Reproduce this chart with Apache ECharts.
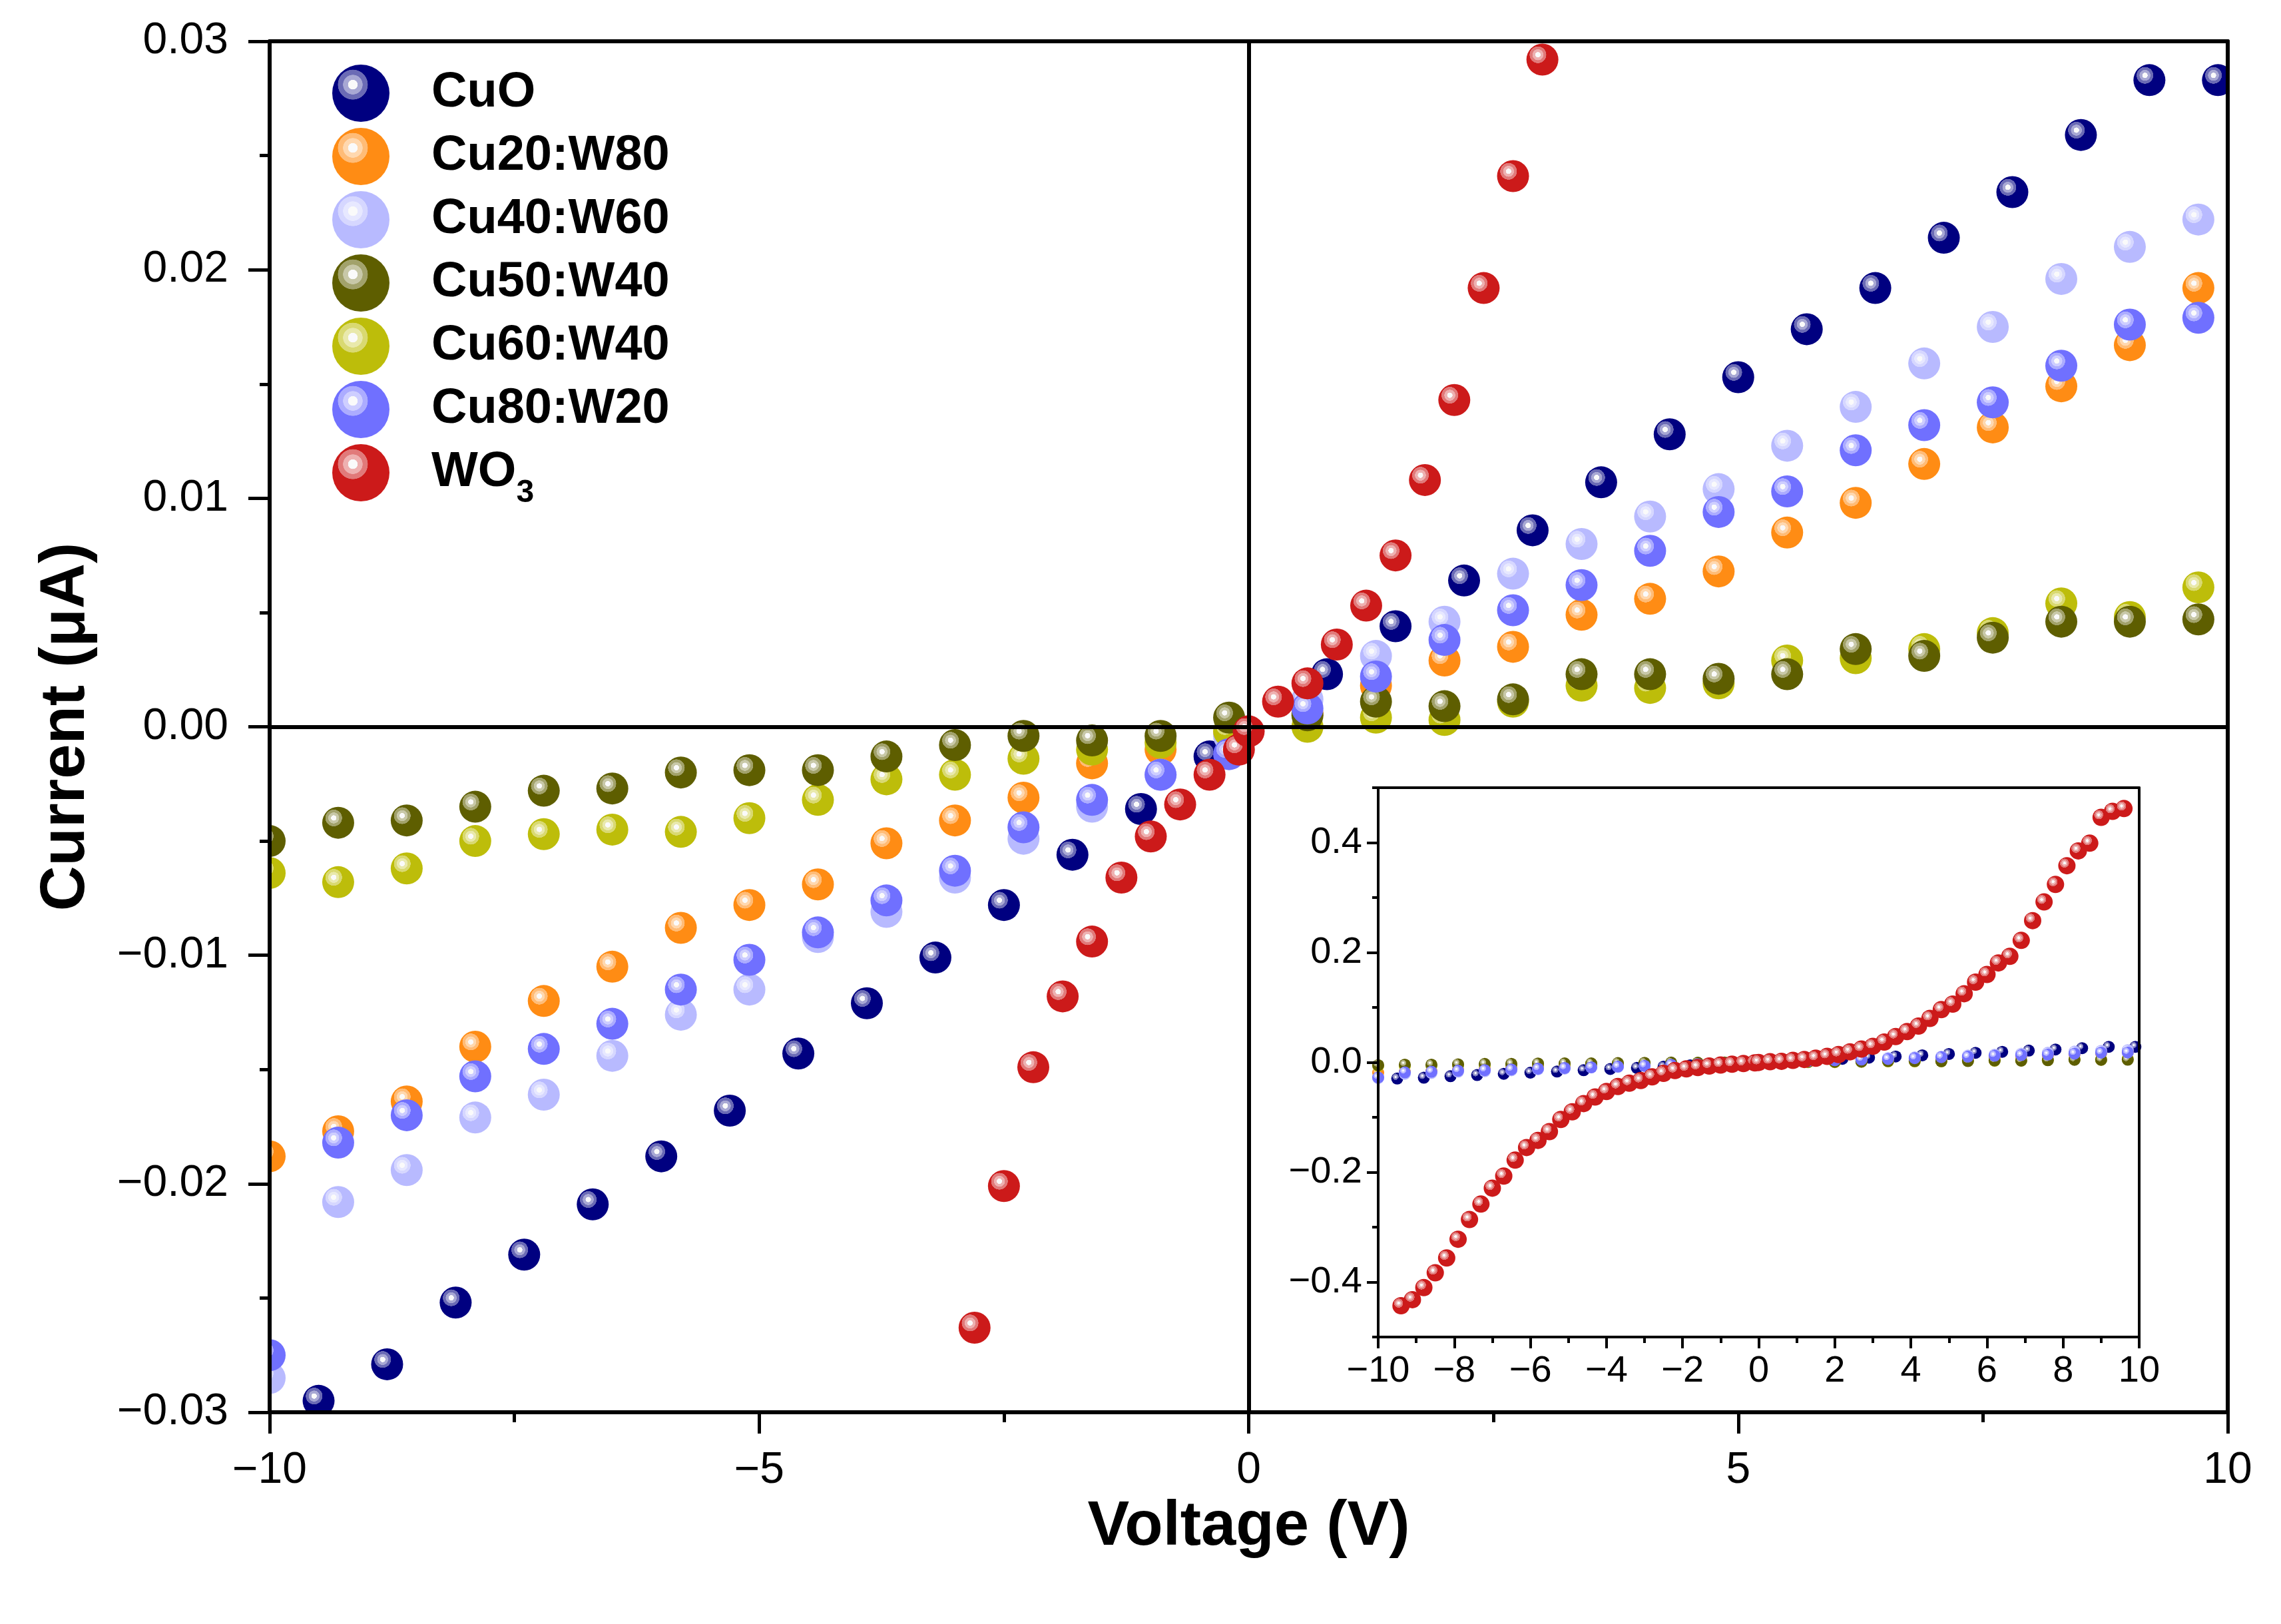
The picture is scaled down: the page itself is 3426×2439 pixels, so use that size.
<!DOCTYPE html>
<html>
<head>
<meta charset="utf-8">
<title>I-V curves</title>
<script src="https://cdn.jsdelivr.net/npm/echarts@6/dist/echarts.min.js"></script>
<style>
  html, body { margin: 0; padding: 0; background: #fff; }
  #chart { width: 3426px; height: 2439px; }
</style>
</head>
<body>
<div id="chart"></div>
<script>
'use strict';

// voltage sweeps (V)
const vCuO = [-9.5, -8.8, -8.1, -7.4, -6.7, -6.0, -5.3, -4.6, -3.9, -3.2, -2.5, -1.8, -1.1, -0.4,
    0.8, 1.5, 2.2, 2.9, 3.6, 4.3, 5.0, 5.7, 6.4, 7.1, 7.8, 8.5, 9.2, 9.9];
const vMix = [-10.0, -9.3, -8.6, -7.9, -7.2, -6.5, -5.8, -5.1, -4.4, -3.7, -3.0, -2.3, -1.6, -0.9, -0.2,
    0.6, 1.3, 2.0, 2.7, 3.4, 4.1, 4.8, 5.5, 6.2, 6.9, 7.6, 8.3, 9.0, 9.7];
const vWO3 = [-9.4, -9.1, -8.8, -8.5, -8.2, -7.9, -7.6, -7.3, -7.0, -6.7, -6.4, -6.1, -5.8, -5.5, -5.2,
    -4.9, -4.6, -4.3, -4.0, -3.7, -3.4, -3.1, -2.8, -2.5, -2.2, -1.9, -1.6, -1.3, -1.0, -0.7, -0.4, -0.1,
    0.0, 0.3, 0.6, 0.9, 1.2, 1.5, 1.8, 2.1, 2.4, 2.7, 3.0, 3.3, 3.6, 3.9, 4.2, 4.5, 4.8, 5.1, 5.4, 5.7,
    6.0, 6.3, 6.6, 6.9, 7.2, 7.5, 7.8, 8.1, 8.4, 8.7, 9.0, 9.3, 9.6];

// currents (uA)
const iCuO = [-0.0295, -0.0279, -0.0252, -0.0231, -0.0209, -0.0188, -0.0168, -0.0143, -0.0121, -0.0101,
    -0.0078, -0.0056, -0.0036, -0.0013, 0.0023, 0.0044, 0.0064, 0.0086, 0.0107, 0.0128, 0.0153, 0.0174,
    0.0192, 0.0214, 0.0234, 0.0259, 0.0283, 0.0283];
const iCu20 = [-0.0188, -0.0177, -0.0164, -0.0140, -0.0120, -0.0105, -0.0088, -0.0078, -0.0069, -0.0051,
    -0.0041, -0.0031, -0.0016, -0.0010, -0.0003, 0.0006, 0.0018, 0.0029, 0.0035, 0.0049, 0.0056, 0.0068,
    0.0085, 0.0098, 0.0115, 0.0131, 0.0149, 0.0167, 0.0192];
const iCu40 = [-0.0285, -0.0208, -0.0194, -0.0171, -0.0161, -0.0144, -0.0126, -0.0115, -0.0092, -0.0081,
    -0.0066, -0.0049, -0.0035, -0.0021, -0.0004, 0.0012, 0.0031, 0.0046, 0.0067, 0.0080, 0.0092, 0.0104,
    0.0123, 0.0140, 0.0159, 0.0175, 0.0196, 0.0210, 0.0222];
const iCu50 = [-0.0050, -0.0042, -0.0041, -0.0035, -0.0028, -0.0027, -0.0020, -0.0019, -0.0019, -0.0013,
    -0.0008, -0.0004, -0.0006, -0.0004, 0.0004, 0.0005, 0.0011, 0.0009, 0.0012, 0.0023, 0.0023, 0.0021,
    0.0023, 0.0034, 0.0031, 0.0039, 0.0046, 0.0046, 0.0047];
const iCu60 = [-0.0064, -0.0068, -0.0062, -0.0050, -0.0047, -0.0045, -0.0046, -0.0040, -0.0032, -0.0023,
    -0.0021, -0.0014, -0.0010, -0.0007, -0.0002, 0.0000, 0.0004, 0.0003, 0.0011, 0.0018, 0.0017, 0.0019,
    0.0029, 0.0030, 0.0034, 0.0041, 0.0054, 0.0048, 0.0061];
const iCu80 = [-0.0275, -0.0182, -0.0170, -0.0153, -0.0141, -0.0130, -0.0115, -0.0102, -0.0090, -0.0076,
    -0.0063, -0.0044, -0.0032, -0.0021, -0.0012, 0.0008, 0.0022, 0.0038, 0.0051, 0.0062, 0.0077, 0.0094,
    0.0103, 0.0121, 0.0132, 0.0142, 0.0158, 0.0176, 0.0179];
const iWO3 = [-0.443, -0.432, -0.410, -0.383, -0.356, -0.322, -0.286, -0.258, -0.229, -0.207, -0.178,
    -0.155, -0.142, -0.126, -0.104, -0.090, -0.075, -0.063, -0.053, -0.044, -0.038, -0.033, -0.0263,
    -0.0201, -0.0149, -0.0118, -0.0094, -0.0066, -0.0048, -0.0034, -0.0021, -0.0010,
    -0.0002, 0.0011, 0.0019, 0.0036, 0.0053, 0.0075, 0.0108, 0.0143, 0.0192, 0.0241, 0.0292, 0.037,
    0.047, 0.056, 0.066, 0.080, 0.096, 0.106, 0.125, 0.146, 0.160, 0.181, 0.193, 0.222, 0.258, 0.292,
    0.324, 0.358, 0.385, 0.399, 0.446, 0.457, 0.462];

// legend order and drawing order
const legendNames = ['CuO', 'Cu20:W80', 'Cu40:W60', 'Cu50:W40', 'Cu60:W40', 'Cu80:W20', 'WO3'];
const samples = [
    { name: 'CuO', v: vCuO, i: iCuO, color: '#000080' },
    { name: 'Cu20:W80', v: vMix, i: iCu20, color: '#ff8c14' },
    { name: 'Cu40:W60', v: vMix, i: iCu40, color: '#b8baff' },
    { name: 'Cu60:W40', v: vMix, i: iCu60, color: '#bdbd0a' },
    { name: 'Cu50:W40', v: vMix, i: iCu50, color: '#5e5e00' },
    { name: 'Cu80:W20', v: vMix, i: iCu80, color: '#7070ff' },
    { name: 'WO3', v: vWO3, i: iWO3, color: '#cc1a1a' }
];

const FONT = '"Liberation Sans", Arial, sans-serif';

function tint(hex, t) {
    const n = parseInt(hex.slice(1), 16);
    const r = (n >> 16) & 255, g = (n >> 8) & 255, b = n & 255;
    return 'rgb(' + Math.round(r + (255 - r) * t) + ',' + Math.round(g + (255 - g) * t) + ',' +
        Math.round(b + (255 - b) * t) + ')';
}

// shaded "sphere" look of the markers: white dot and two flat rings, top left
function ball(hex) {
    const ring1 = tint(hex, 0.66), ring2 = tint(hex, 0.42);
    return {
        type: 'radial', x: 0.36, y: 0.35, r: 0.3,
        colorStops: [
            { offset: 0, color: '#fafafa' },
            { offset: 0.27, color: '#fafafa' },
            { offset: 0.29, color: ring1 },
            { offset: 0.56, color: ring1 },
            { offset: 0.58, color: ring2 },
            { offset: 0.86, color: ring2 },
            { offset: 0.88, color: hex },
            { offset: 1, color: hex }
        ]
    };
}

function minus(s) {
    return String(s).replace('-', '\u2212');
}

function fixed(digits) {
    return function(v) {
        if (Math.abs(v) < 1e-9) v = 0;
        return minus(v.toFixed(digits));
    };
}

function pairs(v, i) {
    return v.map((x, k) => [x, i[k]]);
}

const black = '#000';

function frameAxis(gridIndex, position, width) {
    return {
        gridIndex: gridIndex, type: 'value', position: position, z: 6,
        axisLine: { show: true, onZero: false, lineStyle: { color: black, width: width } },
        axisTick: { show: false }, axisLabel: { show: false }, splitLine: { show: false }
    };
}

const xAxes = [
    {
        gridIndex: 0, type: 'value', min: -10, max: 10, interval: 5, position: 'bottom', z: 6,
        axisLine: { onZero: false, lineStyle: { color: black, width: 6 } },
        axisTick: { inside: false, length: 32, lineStyle: { color: black, width: 5 } },
        minorTick: { show: true, splitNumber: 2, length: 15, lineStyle: { color: black, width: 5 } },
        splitLine: { show: false },
        axisLabel: { fontSize: 66, fontFamily: FONT, color: black, margin: 55, formatter: fixed(0) },
        name: 'Voltage (V)', nameLocation: 'middle', nameGap: 118,
        nameTextStyle: { fontSize: 94, fontWeight: 'bold', fontFamily: FONT, color: black }
    },
    Object.assign(frameAxis(0, 'top', 6), { min: -10, max: 10 }),
    {
        gridIndex: 1, type: 'value', min: -10, max: 10, interval: 2, position: 'bottom', z: 6,
        axisLine: { onZero: false, lineStyle: { color: black, width: 4 } },
        axisTick: { inside: false, length: 17, lineStyle: { color: black, width: 4 } },
        minorTick: { show: true, splitNumber: 2, length: 9, lineStyle: { color: black, width: 4 } },
        splitLine: { show: false },
        axisLabel: { fontSize: 56, fontFamily: FONT, color: black, margin: 24, formatter: fixed(0) }
    },
    Object.assign(frameAxis(1, 'top', 4), { min: -10, max: 10 }),
    { gridIndex: 2, type: 'value', min: -10, max: 10, show: false }
];

const yAxes = [
    {
        gridIndex: 0, type: 'value', min: -0.03, max: 0.03, interval: 0.01, position: 'left', z: 6,
        axisLine: { onZero: false, lineStyle: { color: black, width: 6 } },
        axisTick: { inside: false, length: 32, lineStyle: { color: black, width: 5 } },
        minorTick: { show: true, splitNumber: 2, length: 15, lineStyle: { color: black, width: 5 } },
        splitLine: { show: false },
        axisLabel: { fontSize: 66, fontFamily: FONT, color: black, margin: 62, formatter: fixed(2) },
        name: 'Current (\u03bcA)', nameLocation: 'middle', nameGap: 258,
        nameTextStyle: { fontSize: 94, fontWeight: 'bold', fontFamily: FONT, color: black }
    },
    Object.assign(frameAxis(0, 'right', 6), { min: -0.03, max: 0.03 }),
    {
        // inset: short ticks every 0.1
        gridIndex: 1, type: 'value', min: -0.5, max: 0.5, interval: 0.1, position: 'left', z: 6,
        axisLine: { onZero: false, lineStyle: { color: black, width: 4 } },
        axisTick: { inside: false, length: 9, lineStyle: { color: black, width: 4 } },
        splitLine: { show: false }, axisLabel: { show: false }
    },
    Object.assign(frameAxis(1, 'right', 4), { min: -0.5, max: 0.5 }),
    {
        // inset: labelled ticks every 0.2 (grid 2 spans -0.4..0.4 of the inset)
        gridIndex: 2, type: 'value', min: -0.4, max: 0.4, interval: 0.2, position: 'left', z: 6,
        axisLine: { show: false, onZero: false },
        axisTick: { inside: false, length: 17, lineStyle: { color: black, width: 4 } },
        splitLine: { show: false },
        axisLabel: { fontSize: 56, fontFamily: FONT, color: black, margin: 24, formatter: fixed(1) }
    }
];

const series = [{
    // zero lines of the main plot
    type: 'line', xAxisIndex: 0, yAxisIndex: 0, data: [], z: 1, silent: true,
    markLine: {
        silent: true, symbol: 'none', animation: false, label: { show: false },
        lineStyle: { color: black, width: 6, type: 'solid' },
        data: [{ xAxis: 0 }, { yAxis: 0 }]
    }
}];

samples.forEach(function(s) {
    series.push({
        name: s.name, type: 'scatter', xAxisIndex: 0, yAxisIndex: 0,
        symbol: 'circle', symbolSize: 48, clip: true,
        itemStyle: { color: ball(s.color), opacity: 1 },
        emphasis: { disabled: true },
        data: pairs(s.v, s.i)
    });
});
samples.forEach(function(s) {
    series.push({
        name: s.name, type: 'scatter', xAxisIndex: 2, yAxisIndex: 2,
        symbol: 'circle', symbolSize: s.name === 'WO3' ? 26 : 18, clip: true,
        itemStyle: { color: ball(s.color), opacity: 1 },
        emphasis: { disabled: true },
        data: pairs(s.v, s.i)
    });
});

// white margins so markers are cut at the frame like the original
const W = 3426, H = 2439, L = 402, R = 3349, T = 59, B = 2124;
const masks = [[0, 0, L, H], [0, 0, W, T], [R, 0, W - R, H], [0, B, W, H - B]].map(function(r) {
    return { type: 'rect', z: 5, silent: true, shape: { x: r[0], y: r[1], width: r[2], height: r[3] },
        style: { fill: '#fff' } };
});

const chart = echarts.init(document.getElementById('chart'), null, { renderer: 'canvas' });
chart.setOption({
    animation: false,
    backgroundColor: '#fff',
    grid: [
        { left: 405, right: 80, top: 62, bottom: 318 },
        { left: 2070, top: 1183, width: 1143, height: 825 },
        { left: 2070, top: 1265.5, width: 1143, height: 660 }
    ],
    xAxis: xAxes,
    yAxis: yAxes,
    legend: {
        data: legendNames, orient: 'vertical', left: 494, top: 92, z: 10,
        itemWidth: 86, itemHeight: 86, itemGap: 9, selectedMode: false,
        itemStyle: { opacity: 1 },
        formatter: function(name) {
            return name === 'WO3' ? '{n|WO}{s|3}' : '{n|' + name + '}';
        },
        textStyle: {
            fontFamily: FONT, color: black,
            rich: {
                n: { fontSize: 74, fontWeight: 'bold', fontFamily: FONT, color: black, padding: [0, 0, 0, 58] },
                s: { fontSize: 48, fontWeight: 'bold', fontFamily: FONT, color: black, padding: [62, 0, 0, 0] }
            }
        }
    },
    graphic: masks,
    series: series
});
</script>
</body>
</html>
